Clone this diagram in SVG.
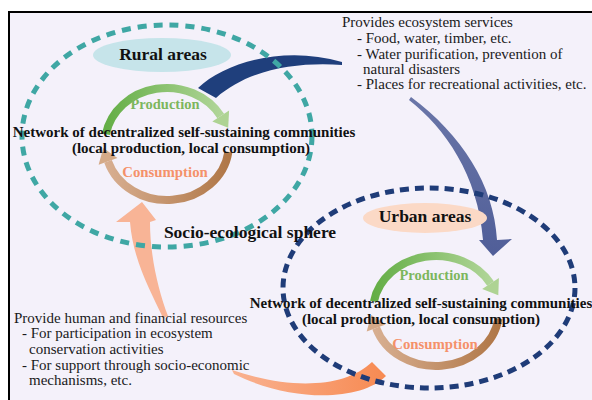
<svg xmlns="http://www.w3.org/2000/svg" width="592" height="400" viewBox="0 0 592 400">
<defs>
<style>
.h{font-family:"Liberation Serif","Times New Roman",serif;font-weight:bold;font-size:17.5px;fill:#111;text-anchor:middle}
.net{font-family:"Liberation Serif","Times New Roman",serif;font-weight:bold;font-size:15px;fill:#111;text-anchor:middle}
.prod{font-family:"Liberation Serif","Times New Roman",serif;font-weight:bold;font-size:14.5px;fill:#7db65d;text-anchor:middle}
.cons{font-family:"Liberation Serif","Times New Roman",serif;font-weight:bold;font-size:14.8px;fill:#f4916a;text-anchor:middle}
.t{font-family:"Liberation Serif","Times New Roman",serif;font-size:15px;fill:#1a1a1a}
.ring-r{fill:none;stroke:#3fa7a4;stroke-width:5;stroke-dasharray:9 7}
.ring-u{fill:none;stroke:#1f3c78;stroke-width:5;stroke-dasharray:9 6}
.parc{fill:none;stroke:url(#gGreen);stroke-width:8}
.carc{fill:none;stroke:url(#gBrown);stroke-width:8}
</style>
<linearGradient id="gGreen" x1="0" y1="0" x2="1" y2="0">
<stop offset="0" stop-color="#64ae46"/><stop offset="1" stop-color="#b0d598"/>
</linearGradient>
<linearGradient id="gBrown" x1="0" y1="0" x2="1" y2="0">
<stop offset="0" stop-color="#d7ae90"/><stop offset="1" stop-color="#b07747"/>
</linearGradient>
<linearGradient id="gSlate" x1="0" y1="0" x2="0" y2="1">
<stop offset="0" stop-color="#6a76a8"/><stop offset="1" stop-color="#505e98"/>
</linearGradient>
<linearGradient id="gOrange" x1="0" y1="0" x2="1" y2="0">
<stop offset="0" stop-color="#f9b291"/><stop offset="1" stop-color="#f78a52"/>
</linearGradient>
</defs>

<g id="background">
<rect x="0" y="0" width="592" height="400" fill="#ffffff"/>
<rect x="9" y="12" width="583" height="388" fill="#f4f1fa"/>
<line x1="8" y1="12" x2="592" y2="12" stroke="#000" stroke-width="2"/>
<line x1="9" y1="11" x2="9" y2="400" stroke="#000" stroke-width="2"/>
</g>

<g id="connectors">
<path id="arrow-services-a" d="M198,88 C225,62 285,45 342,62 L342,65 C300,62 250,68 216,98 Z" fill="#1f3f7c"/>
<path id="arrow-services-b" d="M409,100 C445,128 478,175 483,240 L479,240 L493,256 L512,239 L497,240 C494,185 462,135 411,97 Z" fill="url(#gSlate)"/>
<path id="arrow-resources-a" d="M372,362 C345,388 290,390 232,370 L234,374 C290,402 360,402 386,376 Z" fill="url(#gOrange)"/>
<path id="arrow-resources-b" d="M163,318 C150,290 133,260 130,222 L116,222 L142,202 L156,220 L150,222 C150,255 158,290 168,316 Z" fill="#f8b496"/>
</g>

<g id="rural-areas">
<ellipse class="ring-r" cx="167" cy="136" rx="145" ry="111"/>
<ellipse cx="162" cy="55" rx="69" ry="17" fill="#c6e4ea"/>
<text class="h" x="163" y="60">Rural areas</text>
<g id="rural-cycle">
<path class="parc" d="M105.9,134.3 A62,56 0 0 1 220.7,116"/>
<polygon points="229.1,110.6 212.3,121.4 228.2,127.8" fill="#aed393"/>
<path class="carc" d="M228.4,151.8 A62,56 0 0 1 108,161.3"/>
<polygon points="98.6,164.7 117.4,157.9 103.3,148.1" fill="#d5aa88"/>
<text class="prod" x="165" y="109">Production</text>
<text class="net" x="184" y="137">Network of decentralized self-sustaining communities</text>
<text class="net" x="191" y="153">(local production, local consumption)</text>
<text class="cons" x="165" y="177">Consumption</text>
</g>
</g>

<g id="urban-areas">
<ellipse class="ring-u" cx="429" cy="288" rx="146" ry="100"/>
<ellipse cx="425" cy="218" rx="62" ry="15" fill="#fbd9c6"/>
<text class="h" x="425" y="222">Urban areas</text>
<g id="urban-cycle">
<path class="parc" d="M373.95,301.45 A63,55 0 0 1 490.56,283.5"/>
<polygon points="498.9,278 482.2,289 498.3,295.2" fill="#aed393"/>
<path class="carc" d="M498.4,318.65 A63,55 0 0 1 376.1,328"/>
<polygon points="366.7,331.5 385.5,324.5 371.2,314.9" fill="#d5aa88"/>
<text class="prod" x="434" y="280">Production</text>
<text class="net" x="421" y="308">Network of decentralized self-sustaining communities</text>
<text class="net" x="421" y="324">(local production, local consumption)</text>
<text class="cons" x="435" y="349">Consumption</text>
</g>
</g>

<g id="socio-ecological-sphere">
<text class="h" x="250" y="238">Socio-ecological sphere</text>
</g>

<g id="label-ecosystem-services">
<text class="t" x="342" y="27">Provides ecosystem services</text>
<text class="t" x="357" y="43">- Food, water, timber, etc.</text>
<text class="t" x="357" y="58.7">- Water purification, prevention of</text>
<text class="t" x="363" y="74">natural disasters</text>
<text class="t" x="357" y="89.3">- Places for recreational activities, etc.</text>
</g>

<g id="label-resources">
<text class="t" x="14" y="322.7">Provide human and financial resources</text>
<text class="t" x="22" y="338.3">- For participation in ecosystem</text>
<text class="t" x="29" y="354">conservation activities</text>
<text class="t" x="22" y="370">- For support through socio-economic</text>
<text class="t" x="29" y="385">mechanisms, etc.</text>
</g>
</svg>
